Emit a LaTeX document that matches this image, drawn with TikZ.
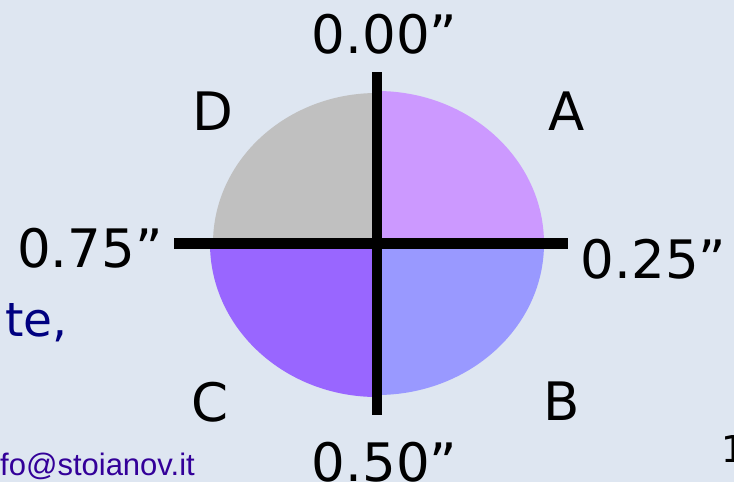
\documentclass[tikz,border=0pt]{standalone}
\usepackage{fontspec}
\setmainfont{DejaVu Sans}
\newfontfamily\mailfont{Liberation Sans}
\usepackage{tikz}
\usetikzlibrary{positioning}
\usetikzlibrary{calc}

\definecolor{bgcol}{RGB}{222,230,241}
\definecolor{qa}{HTML}{CC99FF}
\definecolor{qb}{HTML}{9999FF}
\definecolor{qc}{HTML}{9966FF}
\definecolor{qd}{HTML}{C0C0C0}
\definecolor{navytext}{HTML}{000080}
\definecolor{mailcol}{HTML}{330099}

\begin{document}
\begin{tikzpicture}[x=1pt, y=-1pt,
    lbl/.style={inner sep=0pt, anchor=base, font=\fontsize{53}{60}\selectfont},
    axis/.style={line width=10.5pt}]

    % background
    \fill[bgcol] (0,0) rectangle (734,482);
    \useasboundingbox (0,0) rectangle (734,482);

    \coordinate (o) at (377,243.5);

    % quarters
    \fill[qa] (o) -- ++(167,0) arc[start angle=0, end angle=-90, x radius=167, y radius=152.5] -- cycle;
    \fill[qb] (o) -- ++(167,0) arc[start angle=0, end angle=90, x radius=167, y radius=151.5] -- cycle;
    \fill[qc] (o) -- ++(0,153.5) arc[start angle=90, end angle=180, x radius=167, y radius=153.5] -- cycle;
    \fill[qd] (o) -- ++(-164,0) arc[start angle=180, end angle=270, x radius=164, y radius=150.5] -- cycle;

    \coordinate (n) at (377,72);
    \coordinate (s) at (377,415);
    \coordinate (w) at (174,243.5);
    \coordinate (e) at (568,243.5);

    \draw[axis] (n) -- (s);
    \draw[axis] (w) -- (e);

    \node[lbl] (t0) at (384.5,53) {0.00”};
    \node[lbl] (t1) at (653.5,278) {0.25”};
    \node[lbl] (t2) at (384.5,481) {0.50”};
    \node[lbl] (t3) at (90,267) {0.75”};

    \node[lbl] (la) at (567,130) {A};
    \node[lbl] (lb) at (562,420) {B};
    \node[lbl] (lc) at (210,421) {C};
    \node[lbl] (ld) at (212.5,130) {D};

    \node[inner sep=0pt, anchor=base east, text=navytext, font=\fontsize{47}{54}\selectfont] (frag) at (68,336) {te,};
    \node[inner sep=0pt, anchor=base east, text=mailcol, font=\mailfont\fontsize{31}{36}\selectfont] (mail) at (195,475) {fo@stoianov.it};
    \node[inner sep=0pt, anchor=base west, font=\fontsize{37}{44}\selectfont] (pg) at (721,462) {1};
\end{tikzpicture}
\end{document}
